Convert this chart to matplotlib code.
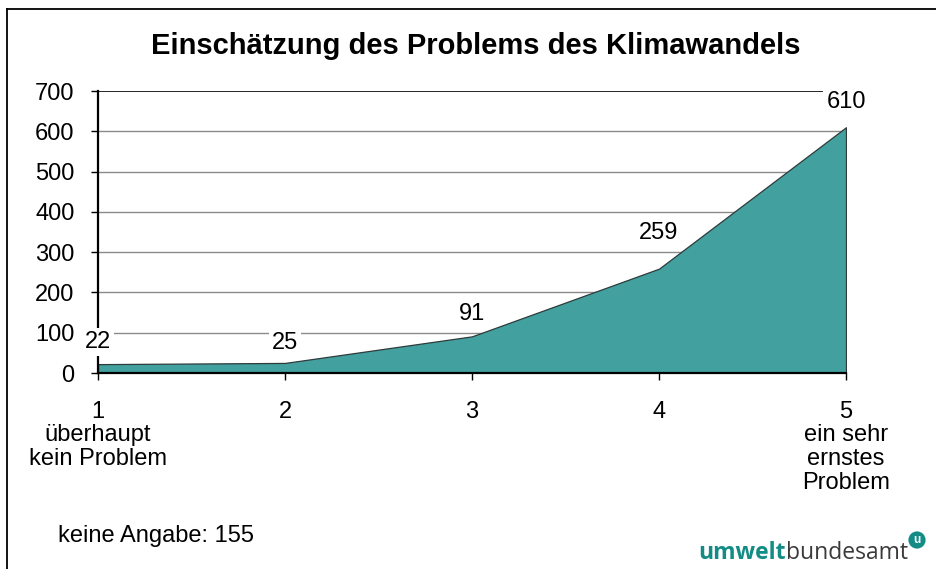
import matplotlib
matplotlib.use("Agg")
import matplotlib.pyplot as plt
from matplotlib.lines import Line2D

plt.rcParams['font.family'] = ['Liberation Sans', 'DejaVu Sans']

# data
scale_points = [1, 2, 3, 4, 5]
answer_counts = [22, 25, 91, 259, 610]
tick_labels = ['1\nüberhaupt\nkein Problem', '2', '3', '4',
               '5\nein sehr\nernstes\nProblem']
y_ticks = [0, 100, 200, 300, 400, 500, 600, 700]
no_answer = 155

W, H = 936, 569
fig = plt.figure(figsize=(W / 100, H / 100), dpi=100)

# axes box in pixel units of the reference
left, right, top, bottom = 98, 846, 91, 373
ax = fig.add_axes([left / W, 1 - bottom / H, (right - left) / W, (bottom - top) / H])

fill_color = '#42a09f'
ax.fill_between(scale_points, answer_counts, 0, color=fill_color,
                edgecolor='#2f3a3a', linewidth=0.9, zorder=3)

ax.set_xlim(1, 5)
ax.set_ylim(0, 700)
ax.set_yticks(y_ticks)
ax.set_xticks(scale_points)
ax.set_xticklabels(tick_labels, fontsize=17, va='top', ha='center',
                   linespacing=1.1)
ax.tick_params(axis='y', labelsize=17, length=5, width=1, pad=12, direction='out')
ax.tick_params(axis='x', length=5, width=1, pad=15, direction='out')

for y in y_ticks[1:-1]:
    ax.axhline(y, color='#8a8a8a', linewidth=1, zorder=1)
ax.axhline(700, color='black', linewidth=1.2, zorder=1)

for s in ['top', 'right']:
    ax.spines[s].set_visible(False)
for s in ['left', 'bottom']:
    ax.spines[s].set_linewidth(1.6)
    ax.spines[s].set_zorder(4)

# value labels above the points (offsets in pixels)
label_offsets = [22, 20, 22, 36, 25]
for x, v, off in zip(scale_points, answer_counts, label_offsets):
    ax.annotate(str(v), (x, v), xytext=(0, off), textcoords='offset pixels',
                ha='center', va='center', fontsize=17, zorder=6,
                annotation_clip=False,
                bbox=dict(boxstyle='square,pad=0.12', fc='white', ec='none'))

fig.text(476 / W, 1 - 46 / H, 'Einschätzung des Problems des Klimawandels',
         ha='center', va='center', fontsize=21, fontweight='bold')

fig.text(58 / W, 1 - 536 / H, f'keine Angabe: {no_answer}',
         ha='left', va='center', fontsize=17)

# frame around the figure (cut at right and bottom like the reference)
fig.add_artist(Line2D([7 / W, 7 / W], [1 - 9 / H, 0], color='black',
                      linewidth=1.3, transform=fig.transFigure))
fig.add_artist(Line2D([7 / W, 1], [1 - 9 / H, 1 - 9 / H], color='black',
                      linewidth=1.3, transform=fig.transFigure))

# logo text
teal = '#138c86'
t1 = fig.text(698 / W, 1 - 559 / H, 'umwelt', ha='left', va='baseline',
              fontsize=16.5, fontweight='bold', color=teal, family='Open Sans')
fig.canvas.draw()
bb = t1.get_window_extent()
fig.text(bb.x1 / W, 1 - 559 / H, 'bundesamt', ha='left', va='baseline',
         fontsize=16.5, color='#3a3a3a', family='Open Sans')
fig.text(917 / W, 1 - 540 / H, 'u', ha='center', va='center', fontsize=8.5,
         fontweight='bold', color='white',
         bbox=dict(boxstyle='circle,pad=0.22', fc=teal, ec='none'))

fig.savefig('out.png', dpi=100)
